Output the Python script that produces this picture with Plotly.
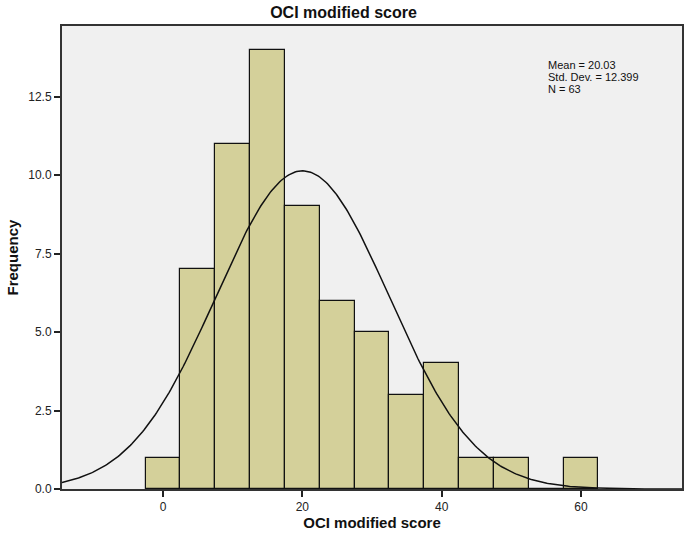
import numpy as np
import plotly.graph_objects as go

bin_centers = [0, 5, 10, 15, 20, 25, 30, 35, 40, 45, 50, 55, 60]
counts = [1, 7, 11, 14, 9, 6, 5, 3, 4, 1, 1, 0, 1]
mean_val = 20.03
sd_val = 12.399
n_val = 63
bin_width = 5
x_ticks = [0, 20, 40, 60]
y_ticks = [0, 2.5, 5, 7.5, 10, 12.5]
y_tick_text = ["0.0", "2.5", "5.0", "7.5", "10.0", "12.5"]
stat_lines = [f"Mean = {mean_val:.2f}", f"Std. Dev. = {sd_val:.3f}", f"N = {n_val}"]

xs = np.linspace(-14.5, 74.5, 400)
curve = n_val * bin_width * np.exp(-0.5 * ((xs - mean_val) / sd_val) ** 2) / (sd_val * np.sqrt(2 * np.pi))

W, H = 687, 540
L, R, T, B = 62, 5, 26, 51
ph = H - T - B
pw = W - L - R

fig = go.Figure()
fig.add_trace(go.Bar(x=bin_centers, y=counts, width=bin_width,
                     marker=dict(color="#d4d09a", line=dict(color="#111111", width=1.2)),
                     showlegend=False, hoverinfo="x+y"))
fig.add_trace(go.Scatter(x=xs, y=curve, mode="lines",
                         line=dict(color="#111111", width=1.5), showlegend=False))

for i, s in enumerate(stat_lines):
    fig.add_annotation(x=(546 - L) / pw, y=1 - (64.5 + 12.5 * i - T) / ph, xref="paper", yref="paper",
                       xanchor="left", yanchor="middle", align="left", showarrow=False, text=s,
                       font=dict(family="Arial, Liberation Sans", size=11, color="#111111"))

fig.add_annotation(x=(12 - L) / pw, y=0.5, xref="paper", yref="paper", textangle=-90,
                   xanchor="center", yanchor="middle", showarrow=False, text="<b>Frequency</b>",
                   font=dict(family="Arial, Liberation Sans", size=15, color="#111111"))

fig.update_layout(
    width=W, height=H,
    margin=dict(l=L, r=R, t=T, b=B, autoexpand=False),
    paper_bgcolor="white", plot_bgcolor="#f0f0f0",
    bargap=0,
    font=dict(family="Arial, Liberation Sans", size=12, color="#222222"),
    title=dict(text="<b>OCI modified score</b>", x=0.5, xanchor="center", xref="container",
               y=1 - 12 / H, yanchor="middle", yref="container",
               font=dict(size=16, color="#111111")),
    xaxis=dict(range=[-14.5, 74.5], tickvals=x_ticks, ticks="outside", ticklen=6, tickwidth=2,
               tickcolor="#222222", showgrid=False, zeroline=False, automargin=False,
               showline=True, linecolor="#333333", linewidth=2, mirror=True,
               title=dict(text="<b>OCI modified score</b>", font=dict(size=15, color="#111111"), standoff=3)),
    yaxis=dict(range=[0, 14.75], tickvals=y_ticks, ticktext=y_tick_text, ticks="outside", ticklen=6,
               tickwidth=2, tickcolor="#222222", showgrid=False, zeroline=False, automargin=False,
               showline=True, linecolor="#333333", linewidth=2, mirror=True),
)

fig.write_html("out.html", config={"displayModeBar": False},
               post_script="document.body.style.margin='0';document.body.style.overflow='hidden';")
